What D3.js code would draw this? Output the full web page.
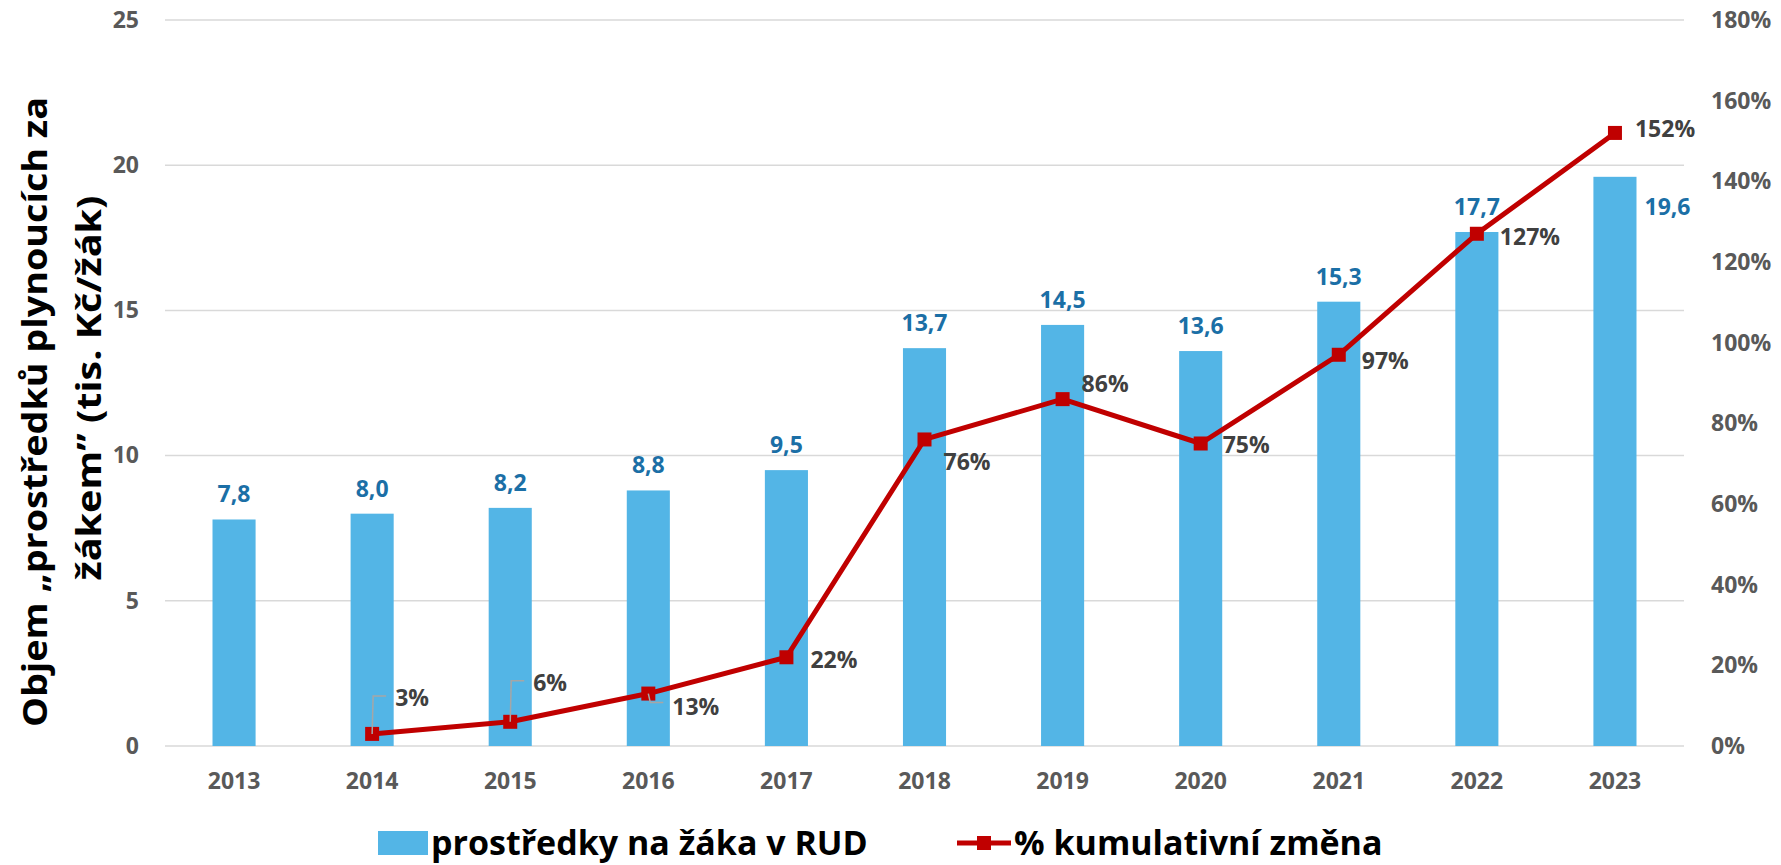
<!DOCTYPE html>
<html>
<head>
<meta charset="utf-8">
<script src="https://cdn.jsdelivr.net/npm/d3@7"></script>
<style>
  body { margin: 0; background: #fff; }
  svg text { font-family: "Open Sans", "DejaVu Sans", sans-serif; font-weight: 700; }
</style>
</head>
<body>
<div id="chart"></div>
<script>
// data
const years = ["2013", "2014", "2015", "2016", "2017", "2018", "2019", "2020", "2021", "2022", "2023"];
const perPupil = [7.8, 8.0, 8.2, 8.8, 9.5, 13.7, 14.5, 13.6, 15.3, 17.7, 19.6];
const cumChange = [null, 0.03, 0.06, 0.13, 0.22, 0.76, 0.86, 0.75, 0.97, 1.27, 1.52];
const leftTicks = [0, 5, 10, 15, 20, 25];
const rightTicks = [0, 0.2, 0.4, 0.6, 0.8, 1.0, 1.2, 1.4, 1.6, 1.8];
const barName = "prostředky na žáka v RUD";
const lineName = "% kumulativní změna";

// where each line label sits relative to its point (leader = callout line)
const lineLabelPlace = [
  null,
  { dx: 23, dy: -36, leader: "up" },
  { dx: 23, dy: -39, leader: "up" },
  { dx: 24, dy: 13, leader: "down" },
  { dx: 24, dy: 2 },
  { dx: 19, dy: 22 },
  { dx: 19, dy: -15 },
  { dx: 22, dy: 1 },
  { dx: 23, dy: 6 },
  { dx: 23, dy: 3 },
  { dx: 20, dy: -4 }
];

const W = 1781, H = 865;
const margin = { top: 20, right: 97, bottom: 119, left: 165 };
const fs = "23px";

const svg = d3.select("#chart").append("svg")
  .attr("width", W).attr("height", H);

const x = d3.scaleBand()
  .domain(years)
  .range([margin.left, W - margin.right])
  .paddingInner(0.688).paddingOuter(0.344);

const yL = d3.scaleLinear().domain([0, 25]).range([H - margin.bottom, margin.top]);
const yR = d3.scaleLinear().domain([0, 1.8]).range([H - margin.bottom, margin.top]);

// gridlines
svg.append("g").selectAll("line")
  .data(leftTicks).join("line")
  .attr("x1", margin.left).attr("x2", W - margin.right)
  .attr("y1", d => yL(d)).attr("y2", d => yL(d))
  .attr("stroke", "#d9d9d9").attr("stroke-width", 1.5);

// left axis
const axL = svg.append("g")
  .attr("transform", `translate(${margin.left - 26},0)`)
  .call(d3.axisLeft(yL).tickValues(leftTicks).tickSize(0).tickPadding(0));
axL.select(".domain").remove();
axL.selectAll("text").attr("fill", "#595959").style("font-size", fs);

// right axis
const axR = svg.append("g")
  .attr("transform", `translate(${W - margin.right + 27},0)`)
  .call(d3.axisRight(yR).tickValues(rightTicks).tickSize(0).tickPadding(0)
    .tickFormat(d => Math.round(d * 100) + "%"));
axR.select(".domain").remove();
axR.selectAll("text").attr("fill", "#595959").style("font-size", fs);

// bottom axis
const axB = svg.append("g")
  .attr("transform", `translate(0,${H - margin.bottom})`)
  .call(d3.axisBottom(x).tickSize(0).tickPadding(0));
axB.select(".domain").remove();
axB.selectAll("text").attr("fill", "#595959").style("font-size", fs)
  .attr("y", 43).attr("dy", null);

// bars
svg.append("g").selectAll("rect")
  .data(perPupil).join("rect")
  .attr("x", (d, i) => x(years[i]))
  .attr("width", x.bandwidth())
  .attr("y", d => yL(d))
  .attr("height", d => yL(0) - yL(d))
  .attr("fill", "#53b5e6");

// bar labels (last one sits right of its bar)
const last = years.length - 1;
svg.append("g").selectAll("text")
  .data(perPupil).join("text")
  .attr("x", (d, i) => i === last ? x(years[i]) + x.bandwidth() + 8 : x(years[i]) + x.bandwidth() / 2)
  .attr("y", (d, i) => i === last ? yL(d) + 38 : yL(d) - 17)
  .attr("text-anchor", (d, i) => i === last ? "start" : "middle")
  .attr("fill", "#1b6fa6")
  .style("font-size", fs)
  .text(d => d3.format(".1f")(d).replace(".", ","));

// line
const pts = cumChange.map((v, i) => ({ v, i })).filter(d => d.v !== null);
const cx = d => x(years[d.i]) + x.bandwidth() / 2;

const line = d3.line()
  .x(cx)
  .y(d => yR(d.v));

svg.append("path")
  .datum(pts)
  .attr("d", line)
  .attr("fill", "none")
  .attr("stroke", "#c00000")
  .attr("stroke-width", 5)
  .attr("stroke-linejoin", "round");

svg.append("g").selectAll("rect")
  .data(pts).join("rect")
  .attr("x", d => cx(d) - 7)
  .attr("y", d => yR(d.v) - 7)
  .attr("width", 14).attr("height", 14)
  .attr("fill", "#c00000");

// leader lines for the small labels
const leaders = pts.filter(d => lineLabelPlace[d.i].leader);
svg.append("g").selectAll("path")
  .data(leaders).join("path")
  .attr("d", d => {
    const p = lineLabelPlace[d.i];
    const x0 = cx(d), y0 = yR(d.v);
    if (p.leader === "up") {
      const ly = y0 + p.dy - 2;
      return `M${x0},${y0} L${x0 + 1},${ly} L${x0 + 14},${ly}`;
    }
    const ly = y0 + p.dy - 4;
    return `M${x0},${y0} L${x0 + 2},${ly} L${x0 + 15},${ly}`;
  })
  .attr("fill", "none")
  .attr("stroke", "#a6a6a6")
  .attr("stroke-width", 1.5);

// line labels
svg.append("g").selectAll("text")
  .data(pts).join("text")
  .attr("x", d => cx(d) + lineLabelPlace[d.i].dx)
  .attr("y", d => yR(d.v) + lineLabelPlace[d.i].dy)
  .attr("dy", "0.36em")
  .attr("fill", "#404040")
  .style("font-size", fs)
  .text(d => Math.round(d.v * 100) + "%");

// y title, two lines, rotated
const title = svg.append("g").attr("fill", "#000").style("font-size", "34px");
title.append("text")
  .attr("transform", `translate(47,412) rotate(-90)`)
  .attr("text-anchor", "middle")
  .attr("textLength", 630).attr("lengthAdjust", "spacingAndGlyphs")
  .text("Objem „prostředků plynoucích za");
title.append("text")
  .attr("transform", `translate(101,388) rotate(-90)`)
  .attr("text-anchor", "middle")
  .attr("textLength", 385).attr("lengthAdjust", "spacingAndGlyphs")
  .text("žákem\u201D (tis. Kč/žák)");

// legend
const lg = svg.append("g").attr("transform", `translate(0,843)`);
lg.append("rect").attr("x", 378).attr("y", -12).attr("width", 50).attr("height", 24).attr("fill", "#53b5e6");
lg.append("text").attr("x", 431).attr("y", 0).attr("dy", "0.35em")
  .style("font-size", "34px").attr("fill", "#000").text(barName);
lg.append("line").attr("x1", 957).attr("x2", 1011).attr("y1", 0).attr("y2", 0)
  .attr("stroke", "#c00000").attr("stroke-width", 5);
lg.append("rect").attr("x", 977).attr("y", -7).attr("width", 14).attr("height", 14).attr("fill", "#c00000");
lg.append("text").attr("x", 1014).attr("y", 0).attr("dy", "0.35em")
  .style("font-size", "34px").attr("fill", "#000").text(lineName);
</script>
</body>
</html>
